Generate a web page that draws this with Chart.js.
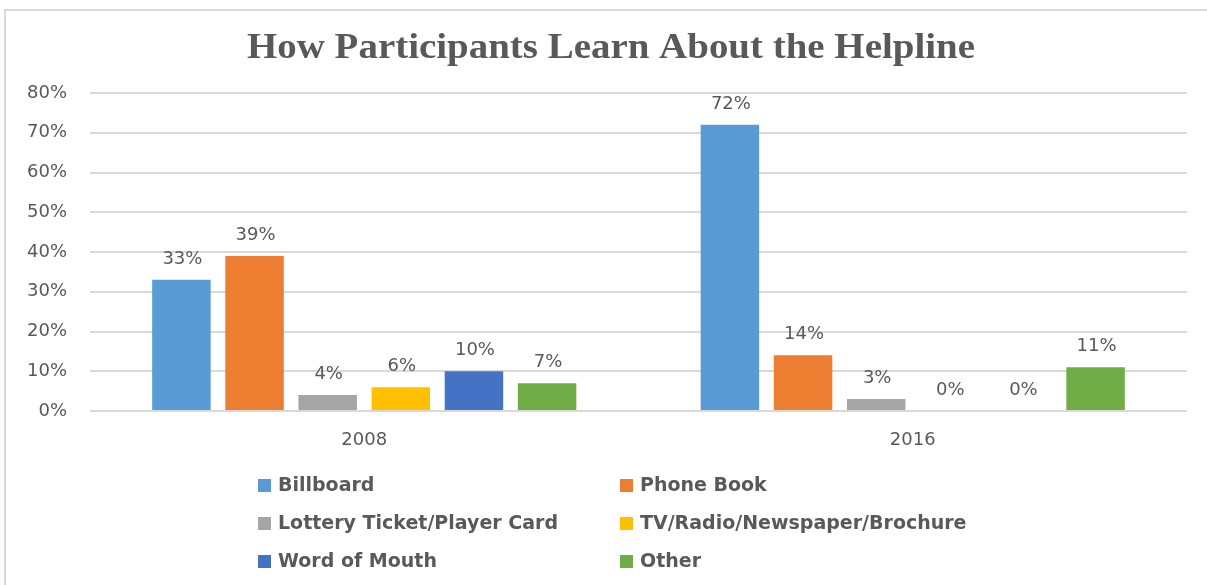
<!DOCTYPE html>
<html>
<head>
<meta charset="utf-8">
<script src="https://cdn.jsdelivr.net/npm/chart.js@4/dist/chart.umd.min.js"></script>
<style>
  html, body { margin: 0; padding: 0; background: #fff; }
  #wrap { position: relative; width: 1207px; height: 585px; overflow: hidden; }
  #frame {
    position: absolute; left: 4px; top: 9px; right: -10px; bottom: -10px;
    border-left: 2px solid #d9d9d9; border-top: 2px solid #d9d9d9;
  }
  canvas { position: absolute; left: 0; top: 0; }
</style>
</head>
<body>
<div id="wrap">
  <div id="frame"></div>
  <canvas id="chart" width="1207" height="585"></canvas>
</div>
<script>
const chartTitle = "How Participants Learn About the Helpline";
const years = ["2008", "2016"];

const seriesNames = [
  "Billboard",
  "Phone Book",
  "Lottery Ticket/Player Card",
  "TV/Radio/Newspaper/Brochure",
  "Word of Mouth",
  "Other",
];
const billboard = [33, 72];
const phoneBook = [39, 14];
const lottery = [4, 3];
const tvRadio = [6, 0];
const wordOfMouth = [10, 0];
const other = [7, 11];
const seriesColors = ["#5B9BD5", "#ED7D31", "#A5A5A5", "#FFC000", "#4472C4", "#70AD47"];

const yTicks = [0, 10, 20, 30, 40, 50, 60, 70, 80];

const TEXT = "#595959";
const GRID = "#d9d9d9";

const allValues = [billboard, phoneBook, lottery, tvRadio, wordOfMouth, other];

const datasets = seriesNames.map((name, i) => ({
  label: name,
  data: allValues[i],
  backgroundColor: seriesColors[i],
  borderWidth: 0,
  barPercentage: 0.8,
  categoryPercentage: 0.8,
}));

// value labels above each bar
const barLabels = {
  id: "barLabels",
  afterDatasetsDraw(chart) {
    const ctx = chart.ctx;
    ctx.save();
    ctx.font = "18px 'DejaVu Sans'";
    ctx.fillStyle = TEXT;
    ctx.textAlign = "center";
    ctx.textBaseline = "alphabetic";
    chart.data.datasets.forEach((ds, di) => {
      const meta = chart.getDatasetMeta(di);
      meta.data.forEach((bar, j) => {
        ctx.fillText(ds.data[j] + "%", bar.x + 1, bar.y - 16);
      });
    });
    ctx.restore();
  },
};

// title and 2-column legend
const decor = {
  id: "decor",
  afterDraw(chart) {
    const ctx = chart.ctx;
    ctx.save();
    ctx.fillStyle = TEXT;
    ctx.font = "bold 35px 'Liberation Serif'";
    ctx.textAlign = "center";
    ctx.textBaseline = "alphabetic";
    const w = ctx.measureText(chartTitle).width;
    ctx.translate(611, 58);
    ctx.scale(728 / w, 1);
    ctx.fillText(chartTitle, 0, 0);
    ctx.restore();

    ctx.save();
    const colX = [258, 620];
    const rowY = [485, 523, 561];
    ctx.font = "bold 19px 'DejaVu Sans'";
    ctx.textAlign = "left";
    ctx.textBaseline = "middle";
    chart.data.datasets.forEach((ds, i) => {
      const x = colX[i % 2];
      const y = rowY[Math.floor(i / 2)];
      ctx.fillStyle = ds.backgroundColor;
      ctx.fillRect(x, y - 6, 13, 13);
      ctx.fillStyle = TEXT;
      ctx.fillText(ds.label, x + 20, y + 1);
    });
    ctx.restore();
  },
};

new Chart(document.getElementById("chart").getContext("2d"), {
  type: "bar",
  data: { labels: years, datasets },
  options: {
    responsive: false,
    animation: false,
    devicePixelRatio: 1,
    layout: { padding: { top: 93, right: 20, bottom: 134, left: 0 } },
    scales: {
      x: {
        grid: { display: false, drawTicks: false },
        border: { display: false },
        ticks: { color: TEXT, font: { family: "DejaVu Sans", size: 18 }, padding: 19 },
        afterFit: (s) => { s.height = 40; },
      },
      y: {
        min: 0,
        max: 80,
        afterBuildTicks: (s) => { s.ticks = yTicks.map((v) => ({ value: v })); },
        grid: { color: GRID, lineWidth: 2, drawTicks: false },
        border: { display: false },
        ticks: {
          color: TEXT,
          font: { family: "DejaVu Sans", size: 18 },
          padding: 23,
          callback: (v) => v + "%",
        },
        afterFit: (s) => { s.width = 90; },
      },
    },
    plugins: {
      legend: { display: false },
      title: { display: false },
      tooltip: { enabled: false },
    },
  },
  plugins: [barLabels, decor],
});
</script>
</body>
</html>
